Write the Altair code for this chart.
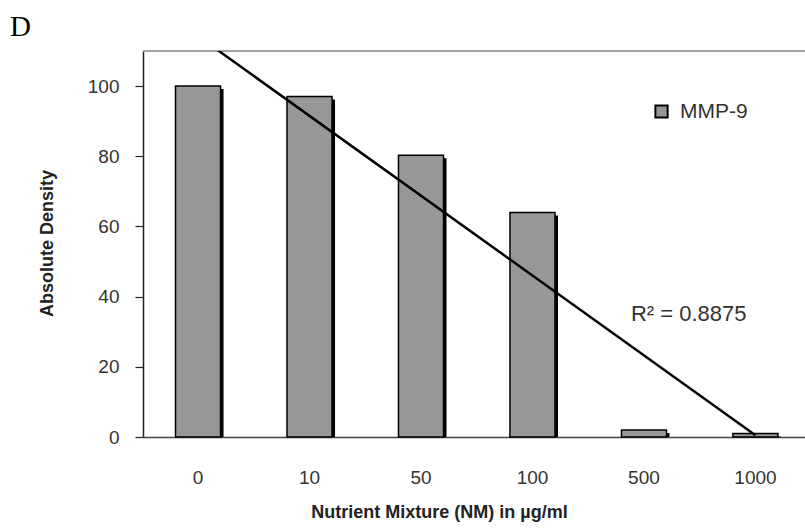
import altair as alt
import pandas as pd
import numpy as np

categories = ["0", "10", "50", "100", "500", "1000"]
values = [100, 97, 80.3, 64, 2, 1]
series_name = "MMP-9"
r2_label = "R\u00b2 = 0.8875"
y_ticks = [0, 20, 40, 60, 80, 100]

df = pd.DataFrame({"cat": categories, "val": values, "series": series_name})

# linear trendline over category index (as in the spreadsheet chart)
idx = np.arange(1, len(values) + 1)
slope, intercept = np.polyfit(idx, values, 1)
trend = pd.DataFrame({
    "cat": [categories[0], categories[-1]],
    "val": [slope * idx[0] + intercept, slope * idx[-1] + intercept],
})

W, H = 662, 386

xscale = alt.Scale(domain=categories, paddingInner=0.596, paddingOuter=0.267, align=0.546)
yscale = alt.Scale(domain=[0, 110], nice=False)

xaxis = alt.Axis(
    title="Nutrient Mixture (NM) in \u00b5g/ml",
    labelAngle=0, ticks=False, labelPadding=40, labelBaseline="middle",
    labelFont="Liberation Sans", labelFontSize=19, labelColor="#333",
    titleFont="Liberation Sans", titleFontSize=18, titleFontWeight="bold",
    titleColor="#222", titleX=296, titleY=75, titleBaseline="middle",
    domainColor="#444", domainWidth=1.5,
)
yaxis = alt.Axis(
    title="Absolute Density", values=y_ticks, grid=False,
    tickSize=8, tickColor="#222", tickWidth=1.2, labelPadding=16,
    labelFont="Liberation Sans", labelFontSize=19, labelColor="#333",
    titleFont="Liberation Sans", titleFontSize=18, titleFontWeight="bold",
    titleColor="#222", titleX=-96, titleY=192, titleAngle=-90,
    titleBaseline="middle", titleAlign="center",
    domainColor="#222", domainWidth=1.5,
)

base = alt.Chart(df)

shadow = base.mark_bar(color="black", xOffset=3, yOffset=3, clip=True).encode(
    x=alt.X("cat:N", scale=xscale, sort=categories, axis=xaxis),
    y=alt.Y("val:Q", scale=yscale, axis=yaxis),
)

bars = base.mark_bar(stroke="black", strokeWidth=1.5).encode(
    x=alt.X("cat:N", scale=xscale, sort=categories),
    y=alt.Y("val:Q", scale=yscale),
    color=alt.Color(
        "series:N",
        scale=alt.Scale(domain=[series_name], range=["#979797"]),
        legend=alt.Legend(
            title=None, orient="none", legendX=508, legendY=50,
            symbolType="square", symbolSize=150,
            symbolStrokeColor="black", symbolStrokeWidth=2,
            labelFont="Liberation Sans", labelFontSize=21, labelColor="#333",
            labelOffset=8,
        ),
    ),
)

line = alt.Chart(trend).mark_line(color="black", strokeWidth=2.5, clip=True).encode(
    x=alt.X("cat:N", scale=xscale, sort=categories),
    y=alt.Y("val:Q", scale=yscale),
)

r2 = alt.Chart(pd.DataFrame({"cat": ["500"], "val": [35], "t": [r2_label]})).mark_text(
    align="left", baseline="middle", dx=-13, font="Liberation Sans",
    fontSize=22, color="#333",
).encode(
    x=alt.X("cat:N", scale=xscale, sort=categories),
    y=alt.Y("val:Q", scale=yscale),
    text="t:N",
)

topline = alt.Chart(pd.DataFrame({"a": [0]})).mark_rule(color="#888", strokeWidth=1.5).encode(
    x=alt.value(0), x2=alt.value(W), y=alt.value(0)
)

chart = alt.layer(topline, shadow, bars, line, r2).properties(
    width=W, height=H,
    autosize=alt.AutoSizeParams(type="none"),
    padding={"left": 143, "top": 51, "right": 0, "bottom": 92},
    title=alt.TitleParams(
        "D", anchor="start", frame="group", font="Liberation Serif", fontSize=29,
        fontWeight="normal", color="black", dx=-133, dy=33, offset=18,
        baseline="alphabetic",
    ),
).configure_view(stroke=None).configure(background="white")

chart.save("out.html", embed_options={"renderer": "svg", "actions": False})
